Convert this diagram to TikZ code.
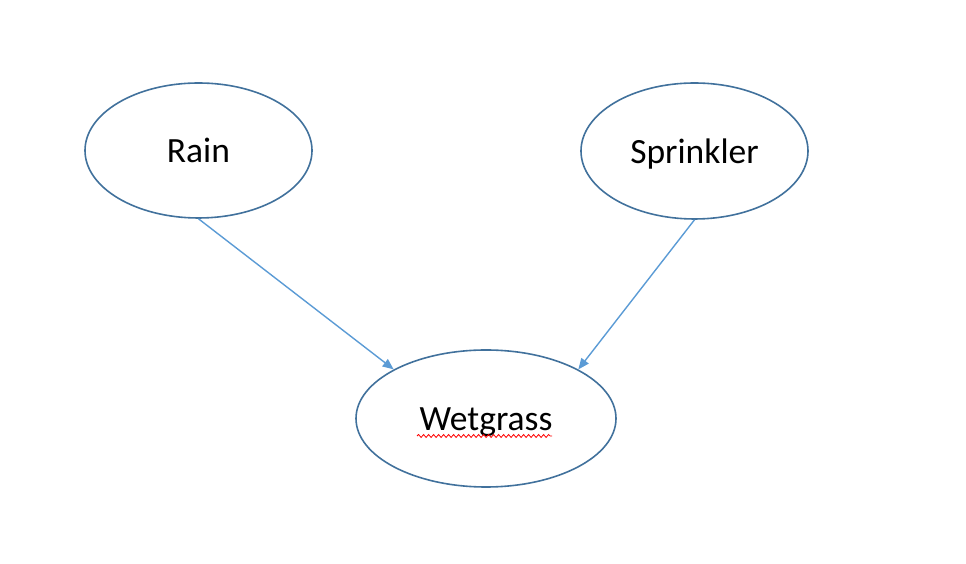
\documentclass[tikz,border=0pt]{standalone}
\usepackage{fontspec}
\setmainfont{Carlito}
\usetikzlibrary{shapes.geometric,arrows.meta,decorations.pathmorphing}
\definecolor{outl}{HTML}{41719C}
\definecolor{arr}{HTML}{5B9BD5}
\begin{document}
\begin{tikzpicture}[x=1pt,y=1pt,
  bnode/.style={ellipse,draw=outl,line width=1.6pt,inner sep=0pt,text height=25pt,text depth=0pt,font=\fontsize{35.5}{40}\selectfont},
  conn/.style={draw=arr,line width=1.4pt,-{Triangle[length=11pt,width=9pt]}}]
\useasboundingbox (0,0) rectangle (966,564);
\node[bnode,minimum width=227pt,minimum height=135pt] (rain) at (198.5,413.5) {Rain};
\node[bnode,minimum width=227pt,minimum height=136pt] (spr) at (694.5,413) {Sprinkler};
\node[bnode,minimum width=260pt,minimum height=137pt] (wet) at (486,145.5) {Wetgrass};
\coordinate (ulA) at (417,128);
\coordinate (ulB) at (552,128);
\draw[red,line width=0.8pt,decorate,decoration={snake,amplitude=1.5pt,segment length=5pt}] (ulA) -- (ulB);
\draw[conn] (rain.south) -- (wet.152.5);
\draw[conn] (spr.south) -- (wet.28);
\end{tikzpicture}
\end{document}
